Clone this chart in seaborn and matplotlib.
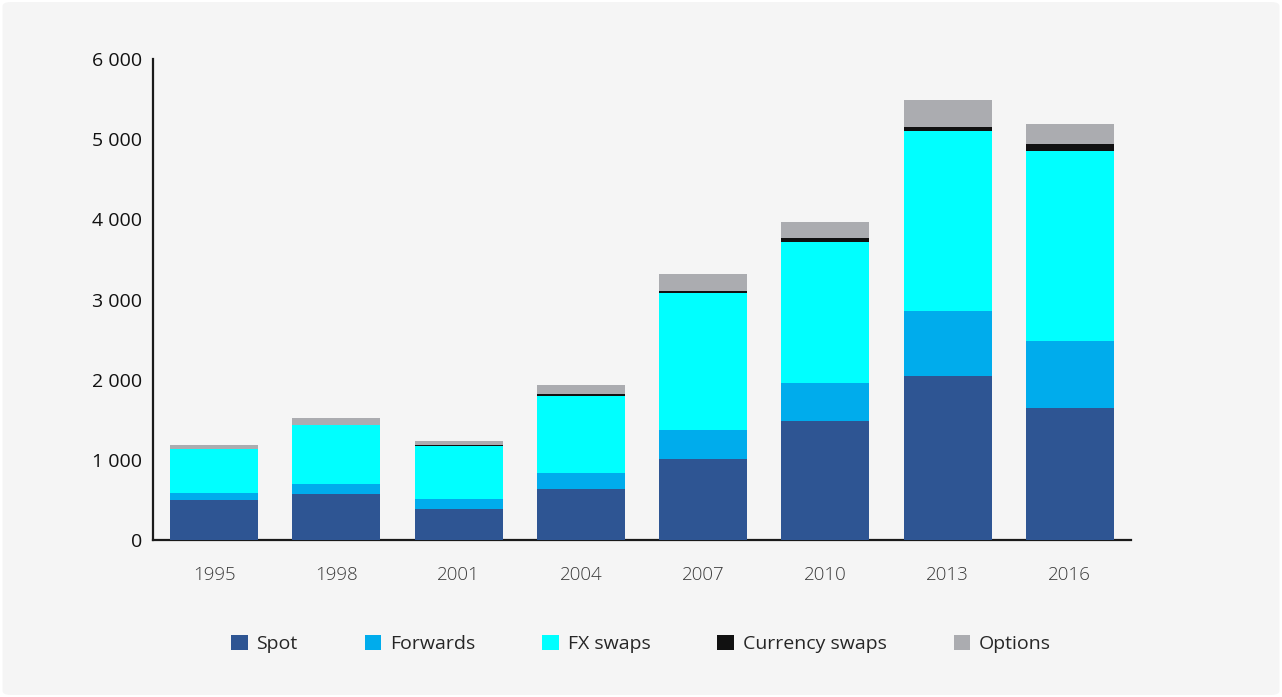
import numpy as np
import pandas as pd
import seaborn as sns
import matplotlib.pyplot as plt
from matplotlib.patches import Patch, FancyBboxPatch
from matplotlib.ticker import FuncFormatter, FixedLocator

# Data (USD bn, daily turnover by instrument)
years = ['1995', '1998', '2001', '2004', '2007', '2010', '2013', '2016']
spot = [494, 568, 386, 631, 1005, 1489, 2047, 1652]
forwards = [97, 128, 130, 209, 362, 475, 810, 836]
fx_swaps = [546, 734, 656, 954, 1714, 1759, 2245, 2369]
currency_swaps = [4, 10, 7, 21, 31, 43, 50, 87]
options = [41, 87, 60, 119, 212, 207, 336, 250]

series = ['Spot', 'Forwards', 'FX swaps', 'Currency swaps', 'Options']
colors = ['#2e5593', '#00acec', '#00ffff', '#111111', '#abacb0']

df = pd.DataFrame({'year': years, 'Spot': spot, 'Forwards': forwards,
                   'FX swaps': fx_swaps, 'Currency swaps': currency_swaps,
                   'Options': options})
cum = df[series].cumsum(axis=1)
cum['year'] = df['year']

bg = '#f5f5f5'
sns.set_style('white')
plt.rcParams['font.family'] = ['Open Sans', 'DejaVu Sans']

fig = plt.figure(figsize=(12.82, 6.97), dpi=100, facecolor='white')
fig.patches.append(FancyBboxPatch((0.002, 0.003), 0.996, 0.994,
                                  boxstyle='round,pad=0,rounding_size=0.006',
                                  transform=fig.transFigure, facecolor=bg,
                                  edgecolor='none', zorder=-10))
ax = fig.add_axes([0.1193, 0.2253, 0.7629, 0.69])
ax.set_facecolor(bg)

# stacked bars: draw cumulative totals, tallest first
for name, col in zip(reversed(series), reversed(colors)):
    sns.barplot(data=cum, x='year', y=name, color=col, saturation=1,
                width=0.72, linewidth=0, ax=ax, zorder=2)

ax.set_xlim(-0.5, 7.5)
ax.set_ylim(0, 6000)
ax.set_xlabel('')
ax.set_ylabel('')

for s in ['top', 'right']:
    ax.spines[s].set_visible(False)
for s in ['left', 'bottom']:
    ax.spines[s].set_color('#1a1a1a')
    ax.spines[s].set_linewidth(1.6)
    ax.spines[s].set_zorder(1)

ax.yaxis.set_major_locator(FixedLocator(np.arange(0, 6001, 1000)))
ax.yaxis.set_major_formatter(FuncFormatter(lambda v, p: f'{int(v):,}'.replace(',', ' ')))
ax.tick_params(axis='y', direction='in', length=18, width=1.6, color='#1a1a1a',
               labelsize=14, labelcolor='#111111', pad=8)
ax.tick_params(axis='x', which='major', length=0, labelsize=13.5,
               labelcolor='#3a3a3a', pad=19)
ax.set_xticks(np.arange(0.5, 7.6, 1), minor=True)
ax.tick_params(axis='x', which='minor', direction='in', length=9, width=1.6,
               color='#1a1a1a')
for lbl in ax.get_xticklabels():
    lbl.set_fontweight('light')

handles = [Patch(facecolor=c, edgecolor='none', label=n) for n, c in zip(series, colors)]
fig.legend(handles=handles, loc='center', bbox_to_anchor=(0.5, 0.076), ncol=5,
           frameon=False, fontsize=14, handlelength=0.85, handleheight=0.85,
           handletextpad=0.45, columnspacing=3.45)

fig.savefig('out.png', dpi=100, facecolor='white')
